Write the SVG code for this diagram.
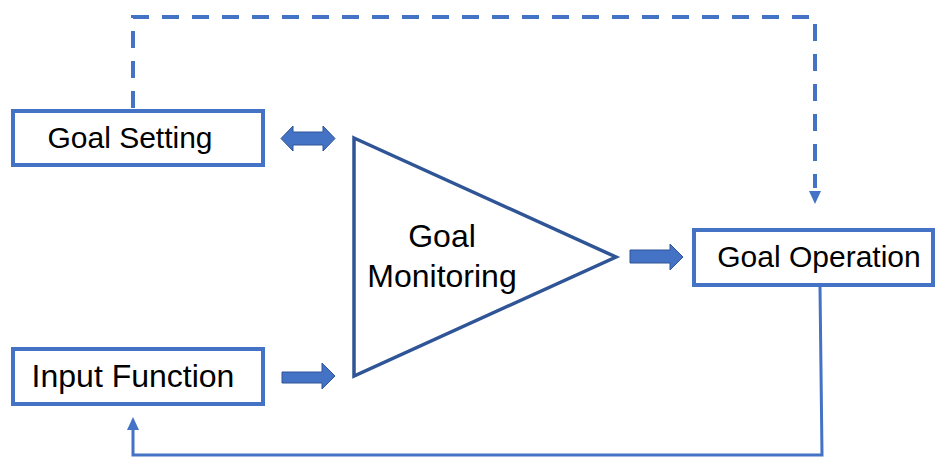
<svg xmlns="http://www.w3.org/2000/svg" width="936" height="457" viewBox="0 0 936 457">
  <style>
    .box { fill: #ffffff; stroke: #4472C4; stroke-width: 4; }
    .tri { fill: #ffffff; stroke: #2F5597; stroke-width: 3.5; stroke-linejoin: miter; }
    .label { font-family: "Liberation Sans", Arial, sans-serif; font-size: 30px; fill: #000000; text-anchor: middle; }
    .big { font-size: 32px; }
    .block { fill: #4472C4; stroke: #2F5597; stroke-width: 1; }
    .dash { fill: none; stroke: #4472C4; stroke-width: 4; stroke-dasharray: 17 13; }
    .line { fill: none; stroke: #4472C4; stroke-width: 3; }
    .head { fill: #4472C4; }
  </style>

  <g id="connectors">
    <!-- dashed feedback from Goal Setting to Goal Operation -->
    <path class="dash" d="M133,108 V17 H815 V188"/>
    <polygon class="head" points="809,191 821,191 815,204"/>
    <!-- solid return from Goal Operation to Input Function -->
    <polyline class="line" points="820,287 822,455 133,455 133,428"/>
    <polygon class="head" points="127,430 139,430 133,417"/>
    <!-- block arrows -->
    <polygon class="block" points="281,138.5 293,126 293,132 323,132 323,126 335,138.5 323,151 323,145 293,145 293,151"/>
    <polygon class="block" points="630,250 670,250 670,244 683,257 670,270 670,263 630,263"/>
    <polygon class="block" points="282,372 322,372 322,363 335,376 322,389 322,383 282,383"/>
  </g>

  <g id="goal-setting">
    <rect class="box" x="13" y="111" width="250" height="54"/>
    <text class="label" x="130" y="148">Goal Setting</text>
  </g>

  <g id="input-function">
    <rect class="box" x="13" y="349" width="250" height="55"/>
    <text class="label big" x="133" y="387">Input Function</text>
  </g>

  <g id="goal-monitoring">
    <polygon class="tri" points="354,138 616,257 354,376"/>
    <text class="label big" x="442" y="247">Goal</text>
    <text class="label big" x="442" y="287">Monitoring</text>
  </g>

  <g id="goal-operation">
    <rect class="box" x="694" y="230" width="239" height="55"/>
    <text class="label" x="819" y="267" font-size="31">Goal Operation</text>
  </g>
</svg>
